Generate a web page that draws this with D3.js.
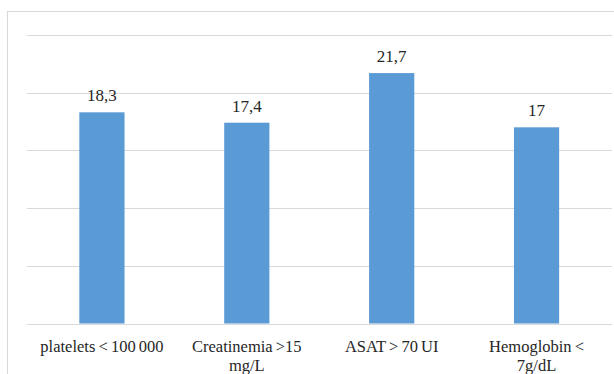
<!DOCTYPE html>
<html>
<head>
<meta charset="utf-8">
<script src="https://cdn.jsdelivr.net/npm/d3@7"></script>
<style>
  html, body { margin: 0; padding: 0; background: #fff; }
  svg { display: block; }
  text { font-family: "Liberation Serif", "Times New Roman", Times, serif; fill: #262626; }
</style>
</head>
<body>
<svg id="chart" width="614" height="374"></svg>
<script>
// Categories (each label may wrap onto two lines)
const categories = ["platelets < 100 000", "Creatinemia >15 mg/L", "ASAT > 70 UI", "Hemoglobin < 7g/dL"];
const labelLines = [["platelets < 100 000"], ["Creatinemia >15", "mg/L"], ["ASAT > 70 UI"], ["Hemoglobin <", "7g/dL"]];
const values = [18.3, 17.4, 21.7, 17];
const valueLabels = ["18,3", "17,4", "21,7", "17"];
const gridTicks = [0, 5, 10, 15, 20, 25];

const svg = d3.select("#chart");
const W = 614, H = 374;

// Chart frame
svg.append("rect")
  .attr("x", 7.5).attr("y", 11.5)
  .attr("width", W).attr("height", H)
  .attr("fill", "#fff").attr("stroke", "#d9d9d9").attr("stroke-width", 1);

const plot = { left: 27, right: 612, top: 35, bottom: 323.5 };

const x = d3.scaleBand()
  .domain(categories)
  .range([29.5, 609])
  .paddingInner(0.688)
  .paddingOuter(0.344);

const y = d3.scaleLinear()
  .domain([0, 25])
  .range([plot.bottom, plot.top]);

// Horizontal gridlines
svg.append("g")
  .selectAll("line")
  .data(gridTicks)
  .join("line")
  .attr("x1", plot.left).attr("x2", plot.right)
  .attr("y1", d => Math.round(y(d)) + 0.5)
  .attr("y2", d => Math.round(y(d)) + 0.5)
  .attr("stroke", "#d9d9d9").attr("stroke-width", 1);

// Bars
svg.append("g")
  .selectAll("rect")
  .data(values)
  .join("rect")
  .attr("x", (d, i) => x(categories[i]))
  .attr("width", x.bandwidth())
  .attr("y", d => y(d))
  .attr("height", d => y(0) - y(d))
  .attr("fill", "#5b9bd5");

// Value labels above bars
svg.append("g")
  .selectAll("text")
  .data(values)
  .join("text")
  .attr("x", (d, i) => x(categories[i]) + x.bandwidth() / 2)
  .attr("y", d => y(d) - 11)
  .attr("text-anchor", "middle")
  .attr("font-size", 17)
  .text((d, i) => valueLabels[i]);

// Category labels, one text element per line
const lineRows = labelLines.flatMap((lines, i) =>
  lines.map((t, j) => ({ cat: categories[i], text: t, row: j })));

svg.append("g")
  .selectAll("text")
  .data(lineRows)
  .join("text")
  .attr("x", d => x(d.cat) + x.bandwidth() / 2)
  .attr("y", d => 352 + d.row * 18.5)
  .attr("text-anchor", "middle")
  .attr("font-size", 16.5)
  .attr("word-spacing", -1)
  .text(d => d.text);
</script>
</body>
</html>
